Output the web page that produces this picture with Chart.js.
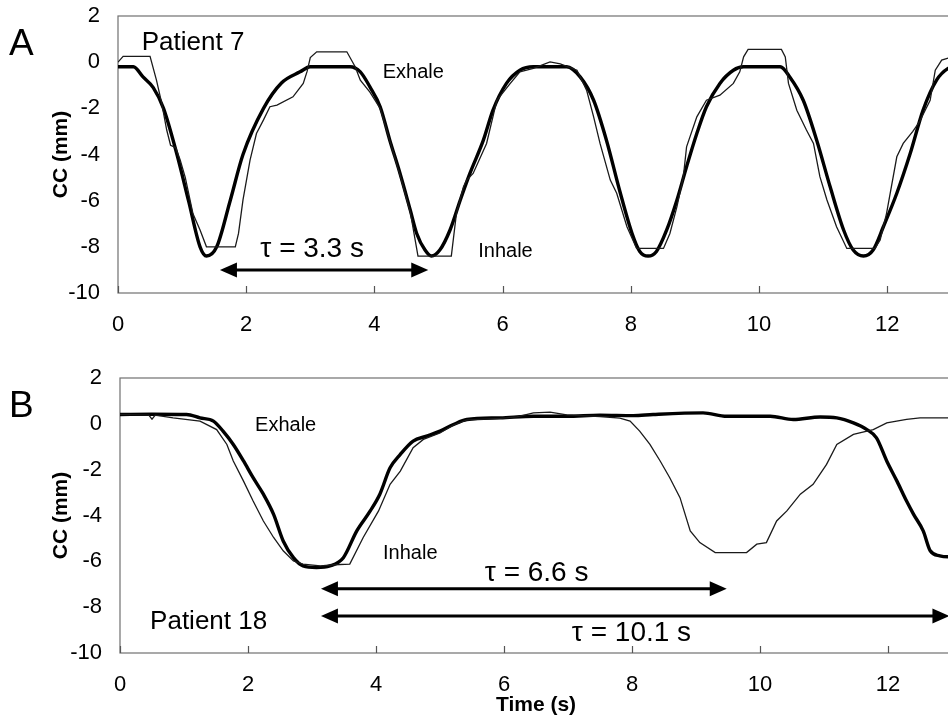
<!DOCTYPE html>
<html><head><meta charset="utf-8">
<script src="https://cdn.jsdelivr.net/npm/chart.js@4"></script>
<style>
html,body{margin:0;padding:0;background:#fff;overflow:hidden;width:948px;height:718px}
#ca{position:absolute;left:0;top:0}
#cb{position:absolute;left:0;top:345px}
</style></head><body>
<canvas id="ca" width="960" height="345"></canvas>
<canvas id="cb" width="960" height="373"></canvas>
<script>
// ---------- DATA ----------
const xTicks = [0, 2, 4, 6, 8, 10, 12];
const yTicks = [2, 0, -2, -4, -6, -8, -10];

// Panel A (Patient 7): model (thick) and measured (thin) CC position, [time s, mm]
const patient7Model = [
 [0.0,-0.2],[0.24,-0.2],[0.39,-0.64],[0.55,-1.1],[0.71,-2.0],[0.92,-4.0],[1.10,-6.0],[1.28,-8.0],[1.38,-8.4],
 [1.54,-8.0],[1.75,-6.0],[1.95,-4.0],[2.27,-2.0],[2.55,-0.9],[2.84,-0.42],[3.0,-0.2],[3.62,-0.2],[3.78,-0.42],
 [3.93,-1.07],[4.09,-1.93],[4.24,-3.38],[4.40,-4.82],[4.56,-6.41],[4.66,-7.42],[4.79,-8.14],[4.89,-8.4],[5.02,-8.14],
 [5.18,-7.27],[5.34,-5.97],[5.49,-4.82],[5.70,-3.38],[5.85,-2.08],[6.06,-0.92],[6.27,-0.35],[6.48,-0.2],[7.0,-0.2],
 [7.21,-0.64],[7.42,-1.65],[7.62,-3.38],[7.83,-5.6],[8.02,-7.42],[8.14,-8.2],[8.27,-8.4],[8.40,-8.2],[8.56,-7.27],
 [8.72,-5.97],[8.87,-4.53],[9.03,-3.09],[9.18,-1.93],[9.39,-0.92],[9.60,-0.35],[9.76,-0.2],[10.33,-0.2],[10.48,-0.64],
 [10.69,-1.65],[10.90,-3.38],[11.11,-5.4],[11.32,-7.27],[11.47,-8.14],[11.63,-8.4],[11.78,-8.14],[11.94,-7.13],
 [12.15,-5.68],[12.36,-3.95],[12.56,-2.08],[12.77,-0.78],[12.95,-0.27],[13.05,-0.2]
];
const patient7Measured = [
 [0.0,0.0],[0.08,0.25],[0.5,0.25],[0.6,-0.78],[0.68,-1.75],[0.76,-2.94],[0.82,-3.6],[0.9,-3.7],[0.97,-4.24],
 [1.05,-5.0],[1.17,-6.57],[1.28,-7.27],[1.38,-8.0],[1.83,-8.0],[1.88,-7.42],[1.95,-5.97],[2.06,-4.24],[2.16,-3.09],
 [2.27,-2.5],[2.37,-1.93],[2.48,-1.86],[2.73,-1.5],[2.89,-0.92],[2.95,-0.4],[3.0,0.2],[3.1,0.45],[3.57,0.45],
 [3.70,-0.2],[3.78,-0.78],[3.93,-1.3],[4.09,-2.0],[4.24,-3.4],[4.40,-4.9],[4.56,-6.5],[4.68,-8.4],[5.2,-8.4],
 [5.28,-6.55],[5.39,-5.4],[5.44,-5.11],[5.54,-4.82],[5.75,-3.52],[5.91,-1.65],[6.12,-0.92],[6.27,-0.42],[6.48,-0.27],
 [6.74,0.01],[6.90,-0.07],[7.16,-0.35],[7.31,-1.21],[7.42,-2.37],[7.52,-3.52],[7.68,-5.11],[7.78,-5.68],[7.94,-7.13],
 [8.09,-8.07],[8.51,-8.07],[8.61,-7.42],[8.72,-6.26],[8.82,-4.96],[8.87,-3.67],[9.03,-2.37],[9.18,-1.65],[9.39,-1.43],
 [9.6,-0.92],[9.70,-0.42],[9.76,0.23],[9.83,0.55],[10.35,0.55],[10.41,0.23],[10.46,-0.92],[10.59,-2.08],[10.74,-2.94],
 [10.85,-3.52],[10.95,-4.96],[11.06,-5.97],[11.21,-7.13],[11.37,-8.07],[11.81,-8.07],[11.89,-7.7],[11.99,-6.55],
 [12.15,-4.1],[12.25,-3.52],[12.4,-3.0],[12.5,-2.6],[12.67,-1.65],[12.75,-0.35],[12.85,0.09],[12.95,0.17]
];

// Panel B (Patient 18)
const patient18Thick = [
 [0.0,0.41],[0.5,0.42],[1.04,0.41],[1.25,0.26],[1.46,0.12],[1.61,-0.32],[1.77,-0.9],[1.93,-1.62],[2.08,-2.35],
 [2.24,-3.07],[2.40,-3.95],[2.55,-5.11],[2.71,-5.84],[2.86,-6.2],[3.07,-6.27],[3.28,-6.2],[3.49,-5.84],[3.70,-4.67],
 [3.91,-3.8],[4.06,-3.07],[4.22,-1.92],[4.38,-1.33],[4.58,-0.75],[4.79,-0.54],[5.0,-0.32],[5.21,-0.03],[5.42,0.19],
 [5.94,0.26],[6.46,0.33],[6.98,0.33],[7.5,0.38],[8.02,0.36],[8.33,0.41],[9.11,0.48],[9.48,0.33],[10.16,0.33],
 [10.52,0.19],[10.94,0.3],[11.2,0.26],[11.46,0.04],[11.67,-0.25],[11.82,-0.61],[11.98,-1.62],[12.14,-2.5],
 [12.29,-3.37],[12.4,-3.95],[12.55,-4.67],[12.66,-5.54],[12.81,-5.76],[12.94,-5.8],[13.05,-5.8]
];
const patient18Thin = [
 [0.0,0.41],[0.45,0.38],[0.5,0.2],[0.55,0.38],[0.83,0.26],[1.25,0.12],[1.51,-0.25],[1.67,-0.9],[1.77,-1.62],
 [1.93,-2.5],[2.08,-3.37],[2.24,-4.24],[2.40,-4.96],[2.55,-5.54],[2.71,-5.98],[2.86,-6.12],[3.13,-6.2],[3.35,-6.15],
 [3.59,-6.12],[3.80,-4.96],[4.04,-3.8],[4.22,-2.64],[4.38,-2.06],[4.58,-1.04],[4.74,-0.68],[5.0,-0.4],[5.21,-0.05],
 [5.42,0.17],[5.94,0.24],[6.2,0.3],[6.46,0.48],[6.72,0.51],[6.98,0.39],[7.5,0.32],[7.81,0.25],[7.97,0.12],
 [8.12,-0.32],[8.28,-0.9],[8.44,-1.62],[8.59,-2.35],[8.75,-3.22],[8.91,-4.67],[9.06,-5.18],[9.30,-5.62],[9.79,-5.62],
 [9.95,-5.25],[10.10,-5.18],[10.26,-4.24],[10.42,-3.8],[10.63,-3.07],[10.83,-2.64],[11.04,-1.77],[11.2,-0.9],
 [11.46,-0.46],[11.77,-0.25],[11.98,0.04],[12.29,0.19],[12.5,0.26],[12.94,0.26],[13.05,0.26]
];

// Period arrows [from s, to s, at mm]
const arrowsA = [[1.59, 4.84, -9.0]];
const arrowsB = [[3.14, 9.48, -7.2], [3.14, 12.96, -8.38]];

// Annotation labels [text, time s, mm]
const labelsA = [['Patient 7', 0.37, 0.52], ['Exhale', 4.13, -0.69], ['Inhale', 5.62, -8.44], ['\u03c4 = 3.3 s', 2.22, -8.44]];
const labelsB = [['Exhale', 2.11, -0.32], ['Inhale', 4.11, -5.89], ['\u03c4 = 6.6 s', 5.70, -6.85], ['\u03c4 = 10.1 s', 7.06, -9.47], ['Patient 18', 0.47, -8.94]];

// ---------- STYLE ----------
const FONT = '"Liberation Sans", Arial, sans-serif';
const labelSizes = {'Patient 7': 26, 'Patient 18': 26, 'Exhale': 20, 'Inhale': 20};

function toXY(arr){ return arr.map(p => ({x: p[0], y: p[1]})); }

function overlayPlugin(arrows, labels, letter){
  return {
    id: 'overlay',
    beforeDatasetsDraw(chart){
      const {ctx, chartArea: a} = chart;
      const xs = chart.scales.x;
      ctx.save();
      ctx.strokeStyle = '#707070'; ctx.lineWidth = 1.2;
      ctx.strokeRect(a.left, a.top, a.right - a.left, a.bottom - a.top);
      ctx.strokeStyle = '#555';
      xs.ticks.forEach(t => {
        const px = Math.round(xs.getPixelForValue(t.value)) + 0.5;
        ctx.beginPath(); ctx.moveTo(px, a.bottom); ctx.lineTo(px, a.bottom - 7); ctx.stroke();
      });
      ctx.restore();
    },
    afterDatasetsDraw(chart){
      const {ctx} = chart;
      const xs = chart.scales.x, ys = chart.scales.y;
      ctx.save();
      ctx.fillStyle = '#000'; ctx.strokeStyle = '#000';
      arrows.forEach(([x1, x2, yv]) => {
        const p1 = xs.getPixelForValue(x1), p2 = xs.getPixelForValue(x2), py = ys.getPixelForValue(yv);
        const hl = 17, hw = 7.5;
        ctx.lineWidth = 3;
        ctx.beginPath(); ctx.moveTo(p1 + hl - 2, py); ctx.lineTo(p2 - hl + 2, py); ctx.stroke();
        ctx.beginPath(); ctx.moveTo(p1, py); ctx.lineTo(p1 + hl, py - hw); ctx.lineTo(p1 + hl, py + hw); ctx.closePath(); ctx.fill();
        ctx.beginPath(); ctx.moveTo(p2, py); ctx.lineTo(p2 - hl, py - hw); ctx.lineTo(p2 - hl, py + hw); ctx.closePath(); ctx.fill();
      });
      ctx.textAlign = 'left'; ctx.textBaseline = 'alphabetic';
      labels.forEach(([txt, xv, yv]) => {
        const size = labelSizes[txt] || 28;
        ctx.font = size + 'px ' + FONT;
        ctx.fillText(txt, xs.getPixelForValue(xv), ys.getPixelForValue(yv));
      });
      ctx.font = letter.size + 'px ' + FONT;
      ctx.fillText(letter.text, letter.x, letter.y);
      ctx.restore();
    }
  };
}

function makeChart(id, model, measured, arrows, labels, letter, geo){
  return new Chart(document.getElementById(id), {
    type: 'line',
    data: {
      datasets: [
        {data: toXY(measured), borderColor: '#1a1a1a', borderWidth: 1.3, pointRadius: 0, tension: 0, fill: false},
        {data: toXY(model), borderColor: '#000', borderWidth: 3.4, pointRadius: 0, cubicInterpolationMode: 'monotone', fill: false}
      ]
    },
    options: {
      responsive: false, animation: false, events: [],
      layout: {padding: {left: 0, top: geo.top, right: 960 - geo.right, bottom: 0}},
      plugins: {legend: {display: false}, tooltip: {enabled: false}},
      scales: {
        x: {
          type: 'linear', min: 0, max: 13,
          grid: {display: false, drawTicks: false}, border: {display: false},
          ticks: {stepSize: 2, includeBounds: false, color: '#000', padding: geo.xPad, font: {family: FONT, size: 22},
                  callback: v => xTicks.includes(v) ? String(v) : ''},
          title: {display: !!geo.xTitle, text: geo.xTitle || '', color: '#000', font: {family: FONT, size: 21, weight: 'bold'}, padding: {top: 0, bottom: 0}},
          afterFit: s => { s.height = geo.xAxisH; s.paddingLeft = 0; s.paddingRight = 0; }
        },
        y: {
          min: -10, max: 2,
          grid: {display: false, drawTicks: false}, border: {display: false},
          ticks: {stepSize: 2, color: '#000', padding: 18, font: {family: FONT, size: 22},
                  callback: v => yTicks.includes(v) ? String(v) : ''},
          title: {display: true, text: 'CC (mm)', color: '#000', font: {family: FONT, size: 21, weight: 'bold'}, padding: {top: 49, bottom: 0}},
          afterFit: s => { s.width = geo.left; s.paddingTop = 0; s.paddingBottom = 0; }
        }
      }
    },
    plugins: [overlayPlugin(arrows, labels, letter)]
  });
}

makeChart('ca', patient7Model, patient7Measured, arrowsA, labelsA,
  {text: 'A', x: 9, y: 55, size: 37},
  {top: 16, right: 951.3, left: 118, xAxisH: 52, xPad: 19});
makeChart('cb', patient18Thick, patient18Thin, arrowsB, labelsB,
  {text: 'B', x: 9, y: 72, size: 37},
  {top: 33, right: 952, left: 120, xAxisH: 65, xPad: 19, xTitle: 'Time (s)'});
</script>
</body></html>
